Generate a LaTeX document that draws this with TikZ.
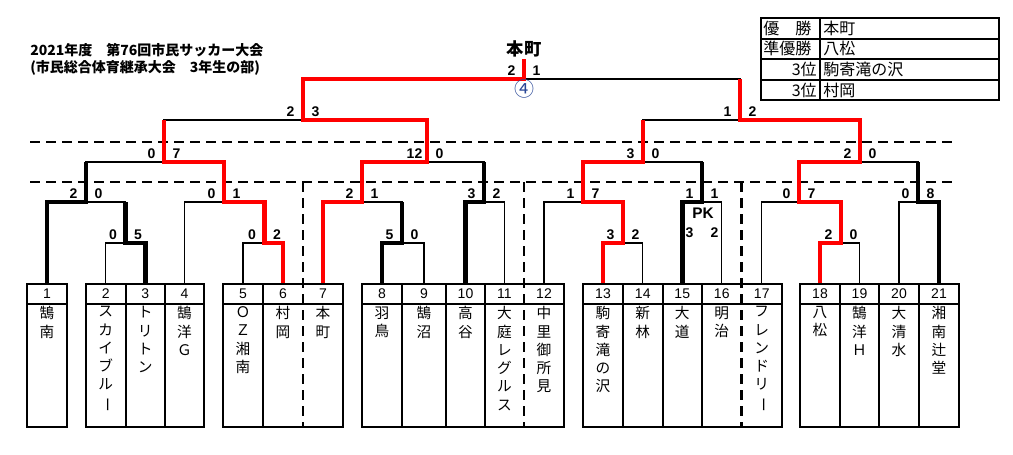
\documentclass[tikz,border=0pt]{standalone}
\usepackage{fontspec}
\usepackage{graphicx}
\setmainfont{Liberation Sans}
\newfontfamily\jp{Noto Sans CJK JP}
\usetikzlibrary{positioning}

\definecolor{circblue}{RGB}{40,70,150}
\newcommand\chouon{\rotatebox[origin=c]{-90}{ー}} % long vowel mark, set upright

\tikzset{
  bline/.style={line width=1.1pt},          % plain bracket line
  wline/.style={line width=3.4pt},          % winner path
  rline/.style={line width=3.4pt, red},     % path of the top four
  boxline/.style={line width=1.5pt},
  divider/.style={line width=1.9pt, dash pattern=on 7.5pt off 4.5pt},
  score/.style={font=\bfseries\fontsize{10.5}{12}\selectfont, inner sep=0pt, anchor=base},
  teamno/.style={font=\fontsize{10.5}{12}\selectfont, inner sep=0pt, minimum height=15pt},
  teamname/.style={font=\jp\fontsize{11}{13.7}\selectfont, inner sep=0pt, align=center},
  tabtext/.style={font=\jp\fontsize{12}{14}\selectfont, inner sep=0pt},
}

\begin{document}
\begin{tikzpicture}[x=0.75pt, y=-0.75pt]  % one unit = one pixel, y downwards
    \useasboundingbox (0,0) rectangle (1013,454);

    % title
    \node[anchor=west, inner sep=0pt, font=\jp\bfseries\fontsize{10.5}{12}\selectfont] (title1) at (30,50) {2021年度　第76回市民サッカー大会};
    \node[anchor=west, inner sep=0pt, font=\jp\bfseries\fontsize{10.5}{12}\selectfont] (title2) at (30,68) {(市民総合体育継承大会　3年生の部)};

    % result table
    \draw[line width=2pt] (761,18) rectangle (999,100);
    \foreach \y in {38.5,59,79.5} {  % row lines
        \draw[boxline] (761,\y) -- (999,\y);
    }
    \draw[boxline] (820,18) -- (820,100);
    \node[tabtext, anchor=west] (rank1) at (763,28) {優　勝};
    \node[tabtext, anchor=west] (rank2) at (763,48.5) {準優勝};
    \node[tabtext, anchor=east] (rank3) at (817,69) {3位};
    \node[tabtext, anchor=east] (rank4) at (817,90) {3位};
    \node[tabtext, anchor=west] (club1) at (823,28) {本町};
    \node[tabtext, anchor=west] (club2) at (823,48.5) {八松};
    \node[tabtext, anchor=west] (club3) at (823,69) {駒寄滝の沢};
    \node[tabtext, anchor=west] (club4) at (823,90) {村岡};

    % dashed dividers
    \foreach \y in {142,182} {
        \draw[divider] (30,\y) -- (955,\y);
    }
    \foreach \x in {303,524,741.5} {
        \draw[divider] (\x,182) -- (\x,427);
    }

    % plain bracket: left x / its start / junction / right x / its start / level / scores
    \foreach \xl/\yl/\xj/\xr/\yr/\y/\sl/\sr [count=\i] in {
        105.75/284/125.5/145.25/284/243/0/5, 243/284/264.5/283/284/243/0/2,
        382/284/402/424/284/243/5/0, 603/284/623/642.75/284/243/3/2,
        820/284/841/859.5/284/243/2/0,
        47/284/86/125.5/243/202/2/0, 184.5/284/224/264.5/243/202/0/1,
        323/284/362/402/243/202/2/1, 465.5/284/484/504.5/284/202/3/2,
        544/284/583/623/243/202/1/7, 682.25/284/702/721.75/284/202/1/1,
        761.75/284/799/841/243/202/0/7, 899/284/918/939/284/202/0/8,
        86/202/164/224/202/162/0/7, 362/202/427/484/202/162/12/0,
        583/202/643/702/202/162/3/0, 799/202/860/918/202/162/2/0,
        164/162/303/427/162/120/2/3, 643/162/740/860/162/120/1/2,
        303/120/524/740/120/79/2/1} {
        \draw[bline] (\xl,\yl) |- (\xj,\y) -| (\xr,\yr);
        \node[score] (sl\i) at (\xj-12.5,\y-4) {\sl};
        \node[score] (sr\i) at (\xj+12.5,\y-4) {\sr};
    }

    % penalty shoot-out, 15 v 16
    \node[inner sep=0pt, font=\bfseries\fontsize{11.5}{13}\selectfont] (pk) at (703,213) {PK};
    \node[score] (pkl) at (689.5,237) {3};
    \node[score] (pkr) at (714.5,237) {2};

    % winners
    \draw[wline] (145.25,284) |- (125.5,243) -- (125.5,202);
    \draw[wline] (47,284) |- (86,202) -- (86,162);
    \draw[wline] (382,284) |- (402,243) -- (402,202);
    \draw[wline] (465.5,284) |- (484,202) -- (484,162);
    \draw[wline] (682.25,284) |- (702,202) -- (702,162);
    \draw[wline] (939,284) |- (918,202) -- (918,162);

    % top four
    \draw[rline] (323,284) |- (362,202) |- (427,162) |- (303,120) |- (524,79) -- (524,59);
    \draw[rline] (283,284) |- (264.5,243) |- (224,202) |- (164,162) -- (164,120);
    \draw[rline] (603,284) |- (623,243) |- (583,202) |- (643,162) -- (643,120);
    \draw[rline] (820,284) |- (841,243) |- (799,202) |- (860,162) |- (740,120) -- (740,79);

    \node[inner sep=0pt, font=\jp\bfseries\fontsize{13}{15}\selectfont] (champ) at (524,49) {本町};
    \node[inner sep=0pt, text=circblue, font=\jp\fontsize{15}{17}\selectfont] (final) at (524.5,89) {④};

    % team boxes
    \foreach \l/\r in {27/67,86/204,223/343,362/564,583/782,800/959} {
        \draw[boxline] (\l,284) rectangle (\r,427);
        \draw[boxline] (\l,304) -- (\r,304);
    }
    \foreach \x in {125.5,165,263,402,446,485,623,662.5,702,840,879,919} {
        \draw[boxline] (\x,284) -- (\x,427);
    }
    \foreach \n/\cx/\name in {
        1/47/{鵠\\南}, 2/105.75/{ス\\カ\\イ\\ブ\\ル\\\chouon}, 3/145.25/{ト\\リ\\ト\\ン},
        4/184.5/{鵠\\洋\\Ｇ}, 5/243/{Ｏ\\Ｚ\\湘\\南}, 6/283/{村\\岡}, 7/323/{本\\町},
        8/382/{羽\\鳥}, 9/424/{鵠\\沼}, 10/465.5/{高\\谷}, 11/504.5/{大\\庭\\レ\\グ\\ル\\ス},
        12/544/{中\\里\\御\\所\\見}, 13/603/{駒\\寄\\滝\\の\\沢}, 14/642.75/{新\\林},
        15/682.25/{大\\道}, 16/721.75/{明\\治}, 17/761.75/{フ\\レ\\ン\\ド\\リ\\\chouon},
        18/820/{八\\松}, 19/859.5/{鵠\\洋\\Ｈ}, 20/899/{大\\清\\水}, 21/939/{湘\\南\\辻\\堂}} {
        \node[teamno] (no\n) at (\cx,294) {\n};
        \node[teamname, below=1.5pt of no\n] (team\n) {\name};
    }
\end{tikzpicture}
\end{document}
